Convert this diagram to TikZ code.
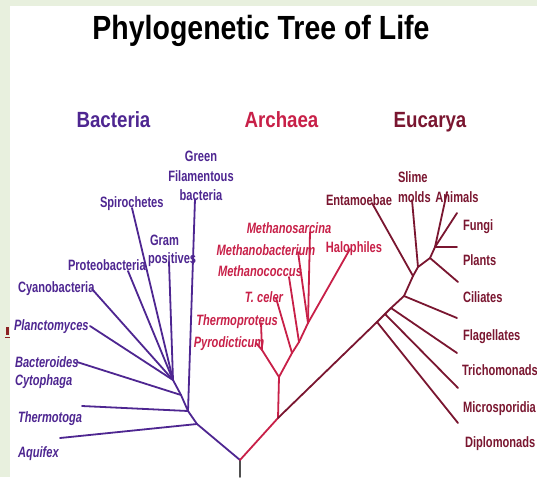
\documentclass[tikz,border=0pt]{standalone}
\usepackage{fontspec}
\setmainfont{Liberation Sans}
\newfontfamily\titlefont{Liberation Sans}[FakeStretch=0.85]
\newfontfamily\leaffont{Liberation Sans}[FakeStretch=0.74]
\usetikzlibrary{positioning}
\definecolor{slidegreen}{RGB}{232,240,222}
\definecolor{bactcol}{RGB}{78,38,145}
\definecolor{archcol}{RGB}{200,32,72}
\definecolor{eukcol}{RGB}{122,22,48}
\definecolor{stemcol}{RGB}{80,80,80}
\definecolor{markcol}{RGB}{140,35,35}

\begin{document}
\begin{tikzpicture}[x=1pt,y=-1pt,
    every node/.style={inner sep=0pt, outer sep=0pt},
    titletext/.style={font=\titlefont\fontsize{33.5}{38}\selectfont\bfseries, anchor=base},
    heading/.style={font=\titlefont\fontsize{22}{26}\selectfont\bfseries, anchor=base},
    leaf/.style={font=\leaffont\fontsize{15}{19.5}\selectfont\bfseries, anchor=base west},
    leafc/.style={leaf, anchor=base},
    slant/.style={font=\leaffont\fontsize{15}{19.5}\selectfont\bfseries\itshape},
    branch/.style={line width=1.8pt, line cap=round, line join=round},
    bactline/.style={branch, bactcol},
    archline/.style={branch, archcol},
    eukline/.style={branch, eukcol}
  ]
  \useasboundingbox (0,0) rectangle (537,477);
  \fill[slidegreen] (0,0) rectangle (537,477);
  \fill[white] (10,6) rectangle (537,477);
  \fill[markcol] (6,327) rectangle (9,335);
  \draw[markcol, line width=1pt] (5,337.5) -- (10,337.5);

  \node[titletext] (title) at (261,39) {Phylogenetic Tree of Life};
  \node[heading, text=bactcol] (bacteria) at (113.5,127) {Bacteria};
  \node[heading, text=archcol] (archaea) at (281.5,127) {Archaea};
  \node[heading, text=eukcol] (eucarya) at (430,127) {Eucarya};

  % branch points
  \coordinate (stem) at (240,477);
  \coordinate (root) at (240,460);
  \coordinate (b1) at (197,424);
  \coordinate (b2) at (188,411);
  \coordinate (b3) at (181,395);
  \coordinate (b4) at (173,380);
  \coordinate (a0) at (278,418);
  \coordinate (a1) at (279,377);
  \coordinate (p1) at (262,350);
  \coordinate (a2) at (292,353);
  \coordinate (a3) at (299,342);
  \coordinate (a4) at (308,323);
  \coordinate (e0) at (377,322);
  \coordinate (e1) at (385,314);
  \coordinate (e2) at (391,308);
  \coordinate (e3) at (404,296);
  \coordinate (e4) at (413,276);
  \coordinate (e5) at (418,267);
  \coordinate (e6) at (430,258);
  \coordinate (e7) at (435,247);

  \draw[branch, stemcol] (stem) -- (root);
  \draw[bactline] (root) -- (b1) -- (b2) -- (b3) -- (b4);
  \draw[archline] (root) -- (a0) -- (a1) -- (a2) -- (a3) -- (a4);
  \draw[archline] (a1) -- (p1);
  \draw[eukline] (a0) -- (e0) -- (e1) -- (e2) -- (e3) -- (e4) -- (e5) -- (e6) -- (e7);

  \foreach \leaf/\lx/\ly/\up in {
    aquifexend/60/438/b1,
    thermotogaend/82/406/b2,
    greenend/195/199/b2,
    bacteroidesend/77/362/b3,
    planctoend/90/326/b4,
    cyanoend/92/289/b4,
    proteoend/128/271/b4,
    spiroend/132/208/b4,
    gramend/169/262/b4}{
    \coordinate (\leaf) at (\lx,\ly);
    \draw[bactline] (\up) -- (\leaf);
  }
  \foreach \leaf/\lx/\ly/\up in {
    thermoproteusend/261/323/p1,
    pyroend/256/343/p1,
    celerend/276/298/a2,
    coccusend/289/277/a3,
    methbactend/298/252/a4,
    sarcinaend/310/232/a4,
    halophilesend/350/249/a4}{
    \coordinate (\leaf) at (\lx,\ly);
    \draw[archline] (\up) -- (\leaf);
  }
  \foreach \leaf/\lx/\ly/\up in {
    diploend/458/423/e0,
    microend/458/388/e1,
    trichoend/457/353/e2,
    flagend/457/318/e3,
    entamend/372/203/e4,
    slimeend/412/200/e5,
    ciliend/458/282/e6,
    animalsend/447/192/e7,
    fungiend/457/213/e7,
    plantsend/457/247/e7}{
    \coordinate (\leaf) at (\lx,\ly);
    \draw[eukline] (\up) -- (\leaf);
  }

  % Bacteria labels
  \node[leafc, text=bactcol, align=center, anchor=center] (green) at (201,176) {Green\\Filamentous\\bacteria};
  \node[leaf, text=bactcol] (spirochetes) at (100,207) {Spirochetes};
  \node[leaf, text=bactcol] (gram) at (150,245) {Gram};
  \node[leaf, text=bactcol] (positives) at (148,263) {positives};
  \node[leaf, text=bactcol] (proteo) at (68,270) {Proteobacteria};
  \node[leaf, text=bactcol] (cyano) at (18,292) {Cyanobacteria};
  \node[leaf, slant, text=bactcol] (plancto) at (14,330) {Planctomyces};
  \node[leaf, slant, text=bactcol] (bacteroides) at (15,367) {Bacteroides};
  \node[leaf, slant, text=bactcol] (cytophaga) at (15,385) {Cytophaga};
  \node[leaf, slant, text=bactcol] (thermotoga) at (18,422) {Thermotoga};
  \node[leaf, slant, text=bactcol] (aquifex) at (18,457) {Aquifex};

  % Archaea labels
  \node[leafc, slant, text=archcol] (sarcina) at (289,233) {Methanosarcina};
  \node[leafc, slant, text=archcol] (methbact) at (266,255) {Methanobacterium};
  \node[leafc, slant, text=archcol] (coccus) at (260,276) {Methanococcus};
  \node[leafc, slant, text=archcol] (celer) at (264,302) {T. celer};
  \node[leafc, slant, text=archcol] (thermoproteus) at (237,325) {Thermoproteus};
  \node[leafc, slant, text=archcol] (pyro) at (229,347) {Pyrodicticum};
  \node[leafc, text=archcol] (halophiles) at (354,252) {Halophiles};

  % Eucarya labels
  \node[leafc, text=eukcol] (entamoebae) at (359,205) {Entamoebae};
  \node[leaf, text=eukcol] (slime) at (398,182) {Slime};
  \node[leaf, text=eukcol] (molds) at (398,202) {molds};
  \node[leafc, text=eukcol] (animals) at (457,202) {Animals};
  \node[leaf, text=eukcol] (fungi) at (463,230) {Fungi};
  \node[leaf, text=eukcol] (plants) at (463,265) {Plants};
  \node[leaf, text=eukcol] (ciliates) at (463,302) {Ciliates};
  \node[leaf, text=eukcol] (flagellates) at (463,340) {Flagellates};
  \node[leaf, text=eukcol] (tricho) at (462,375) {Trichomonads};
  \node[leaf, text=eukcol] (micro) at (463,412) {Microsporidia};
  \node[leaf, text=eukcol] (diplo) at (465,447) {Diplomonads};
\end{tikzpicture}
\end{document}
